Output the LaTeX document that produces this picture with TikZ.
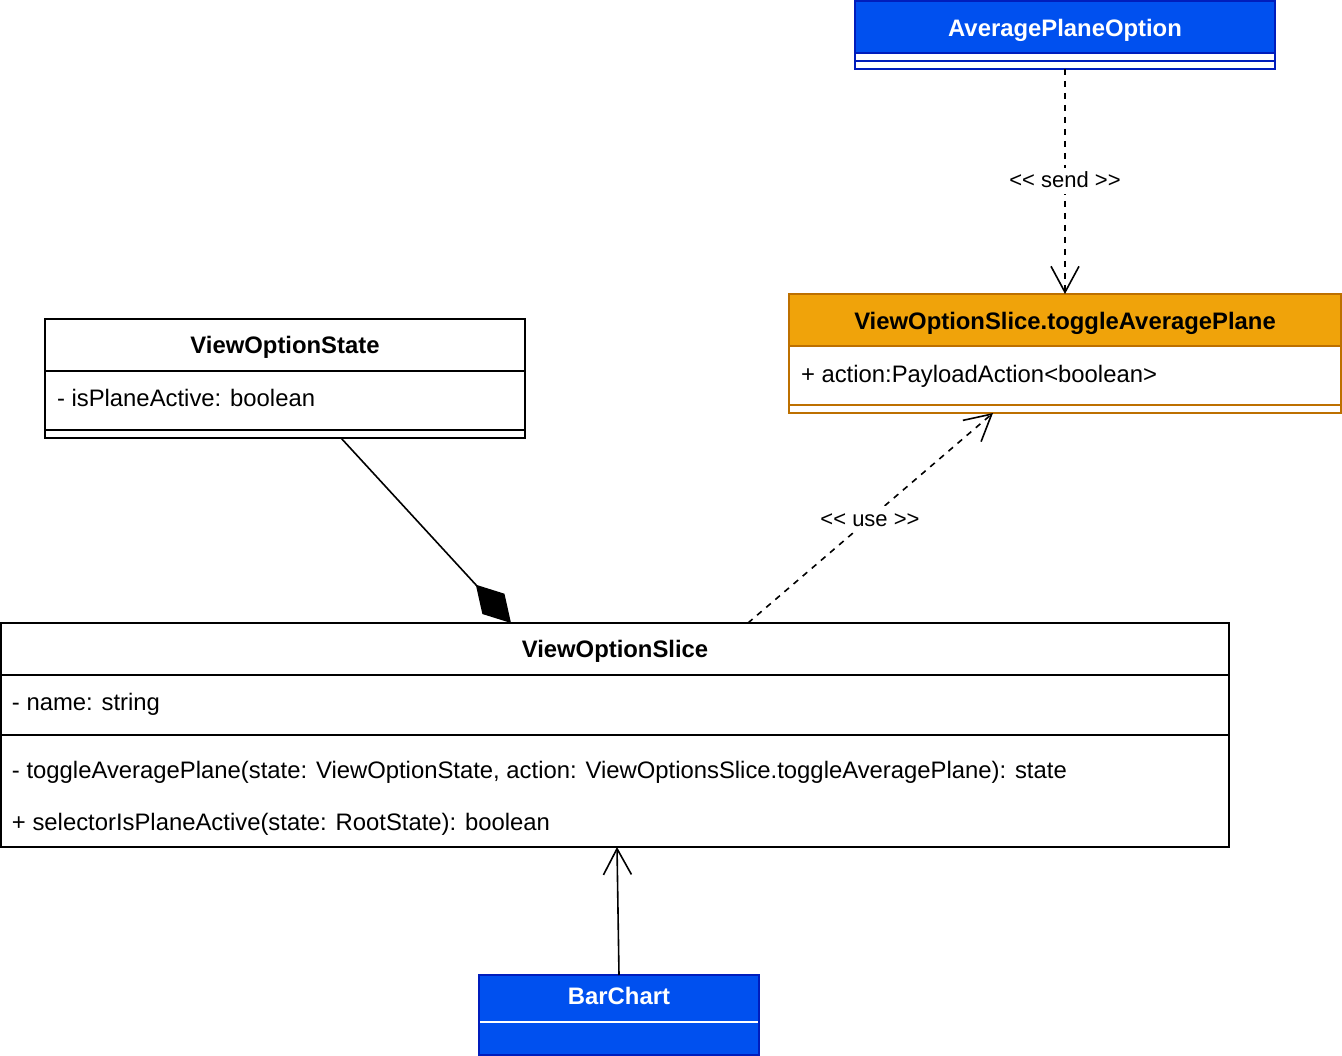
\documentclass[tikz,border=0pt]{standalone}
\usepackage{fontspec}
\setmainfont{Liberation Sans}
\usetikzlibrary{arrows.meta,calc}
\definecolor{bfill}{HTML}{0050EF}
\definecolor{bline}{HTML}{001DBC}
\definecolor{ofill}{HTML}{F0A30A}
\definecolor{oline}{HTML}{BD7000}
\definecolor{lblbg}{HTML}{FFFFFF}
\begin{document}
\begin{tikzpicture}[x=1pt,y=-1pt,
  font=\fontsize{23.85}{28}\selectfont,
  every node/.style={inner sep=0pt, outer sep=0pt},
  lw/.style={line width=1.6pt},
  box/.style={draw, lw, anchor=north west},
  title/.style={anchor=base, font=\fontsize{23.85}{28}\selectfont\bfseries},
  member/.style={anchor=base west},
  lbltext/.style={anchor=base, font=\fontsize{22}{26}\selectfont},
  conn/.style={line width=1.6pt},
  dash6/.style={dash pattern=on 6pt off 6pt},
  openarrow/.style={-{Straight Barb[length=26pt,width=28pt]}},
  diamondend/.style={-{Diamond[length=52pt,width=30pt]}}
]
\useasboundingbox (0,0) rectangle (1342,1056);

% AveragePlaneOption
\node[box, draw=bline, fill=white, minimum width=420pt, minimum height=68pt] (apo) at (855,1) {};
\draw[lw, draw=bline, fill=bfill] (855,1) rectangle (1275,53);
\draw[lw, draw=bline] (855,61) -- (1275,61);
\node[title, text=white] (apoT) at (1065,36.5) {AveragePlaneOption};

% ViewOptionSlice.toggleAveragePlane
\node[box, draw=oline, fill=white, minimum width=552pt, minimum height=119pt] (tog) at (789,294) {};
\draw[lw, draw=oline, fill=ofill] (789,294) rectangle (1341,346);
\draw[lw, draw=oline] (789,405) -- (1341,405);
\node[title] (togT) at (1065,329.5) {ViewOptionSlice.toggleAveragePlane};
\node[member] (togA) at (801,382.5) {+ action:PayloadAction<boolean>};

% ViewOptionState
\node[box, fill=white, minimum width=480pt, minimum height=119pt] (vos) at (45,319) {};
\draw[lw] (45,371) -- (525,371);
\draw[lw] (45,430) -- (525,430);
\node[title] (vosT) at (285,353.5) {ViewOptionState};
\node[member] (vosA) at (57,406.5) {- isPlaneActive: boolean};

% ViewOptionSlice
\node[box, fill=white, minimum width=1228pt, minimum height=224pt] (vsl) at (1,623) {};
\draw[lw] (1,675) -- (1229,675);
\draw[lw] (1,735) -- (1229,735);
\node[title] (vslT) at (615,657.5) {ViewOptionSlice};
\node[member] (vslA) at (12,710.5) {- name: string};
\node[member] (vslM1) at (12,778.5) {- toggleAveragePlane(state: ViewOptionState, action: ViewOptionsSlice.toggleAveragePlane): state};
\node[member] (vslM2) at (12,830.5) {+ selectorIsPlaneActive(state: RootState): boolean};

% BarChart
\node[box, draw=bline, fill=bfill, minimum width=280pt, minimum height=80pt] (bc) at (479,975) {};
\draw[lw, draw=white] (480,1022) -- (758,1022);
\node[title, text=white] (bcT) at (619,1004.5) {BarChart};

% connectors
\draw[conn, dash6, openarrow] (apo.south) -- (tog.north);
\draw[conn, dash6, openarrow] ([xshift=133pt]vsl.north) -- ([xshift=-72pt]tog.south);
\draw[conn, diamondend] ([xshift=56pt]vos.south) -- ([xshift=-104pt]vsl.north);
\draw[conn, openarrow] (bc.north) -- ([xshift=2pt]vsl.south);

% connector labels, on a white ground
\fill[lblbg] (1008,168) rectangle (1122,194);
\fill[lblbg] (819,506) rectangle (921,532);
\node[lbltext] (sendL) at (1065,188) {<{}< send >{}>};
\node[lbltext] (useL) at (870,526) {<{}< use >{}>};
\end{tikzpicture}
\end{document}
